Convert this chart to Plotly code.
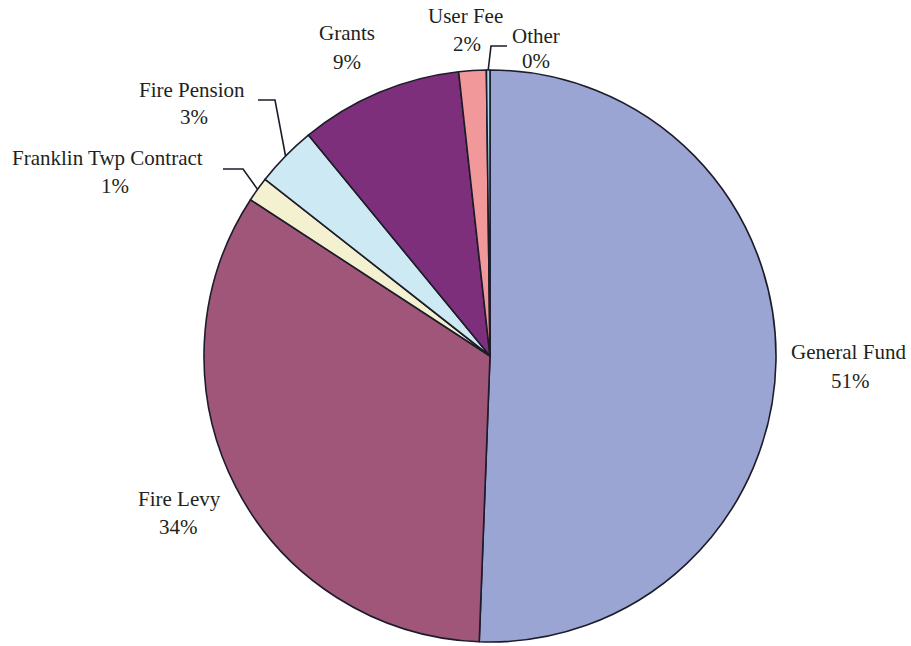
import math
import plotly.graph_objects as go

# Revenue sources (share of total, %)
categories = ["General Fund", "Fire Levy", "Franklin Twp Contract", "Fire Pension",
              "Grants", "User Fee", "Other"]
shares = [50.6, 33.6, 1.4, 3.45, 9.2, 1.55, 0.2]
colors = ["#9BA5D3", "#A05679", "#F3F1D0", "#CDE9F4", "#7E2F7B", "#F0989A", "#A8D8EA"]

W, H = 911, 646
CX, CY, R = 490, 356, 286          # pie centre and radius, pixels

# label placement (pixel centres of the name line and of the percent line)
label_pos = {
    "General Fund":          ((848, 352), (850, 381)),
    "Fire Levy":             ((179, 499), (178, 527)),
    "Franklin Twp Contract": ((107, 158), (115, 186)),
    "Fire Pension":          ((192, 90), (194, 117)),
    "Grants":                ((347, 33), (347, 62)),
    "User Fee":              ((466, 16), (467, 44)),
    "Other":                 ((536, 36), (536, 61)),
}
# leader lines: elbow point and end point (pixels) for small slices
leaders = {
    "Franklin Twp Contract": ((243, 169), (223, 169)),
    "Fire Pension":          ((275, 100), (258, 100)),
    "Other":                 ((491, 46), (507, 46)),
}


def px(x):
    return x / W


def py(y):
    return 1 - y / H


fig = go.Figure(go.Pie(
    labels=categories,
    values=shares,
    sort=False,
    direction="clockwise",
    rotation=0,
    textinfo="none",
    hoverinfo="label+percent",
    marker=dict(colors=colors, line=dict(color="#1C1C2A", width=1.6)),
    domain=dict(x=[px(CX - R), px(CX + R)], y=[py(CY + R), py(CY - R)]),
    showlegend=False,
))

total = sum(shares)
font = dict(family="Liberation Serif, Times New Roman, serif", size=21, color="#231F20")
annotations = []
shapes = []
cum = 0.0
for name, v in zip(categories, shares):
    mid = (cum + v / 2) / total * 2 * math.pi
    cum += v
    (nx, ny), (qx, qy) = label_pos[name]
    pct = f"{round(100 * v / total)}%"
    annotations.append(dict(x=px(nx), y=py(ny), xref="paper", yref="paper", text=name,
                            showarrow=False, font=font, xanchor="center", yanchor="middle"))
    annotations.append(dict(x=px(qx), y=py(qy), xref="paper", yref="paper", text=pct,
                            showarrow=False, font=font, xanchor="center", yanchor="middle"))
    if name in leaders:
        sx = CX + R * math.sin(mid)
        sy = CY - R * math.cos(mid)
        (ex, ey), (tx, ty) = leaders[name]
        path = f"M {px(sx)},{py(sy)} L {px(ex)},{py(ey)} L {px(tx)},{py(ty)}"
        shapes.append(dict(type="path", xref="paper", yref="paper", path=path,
                           line=dict(color="#1C1C2A", width=1.6)))

fig.update_layout(
    width=W, height=H,
    margin=dict(l=0, r=0, t=0, b=0),
    paper_bgcolor="white",
    plot_bgcolor="white",
    annotations=annotations,
    shapes=shapes,
)

fig.write_html("out.html")
